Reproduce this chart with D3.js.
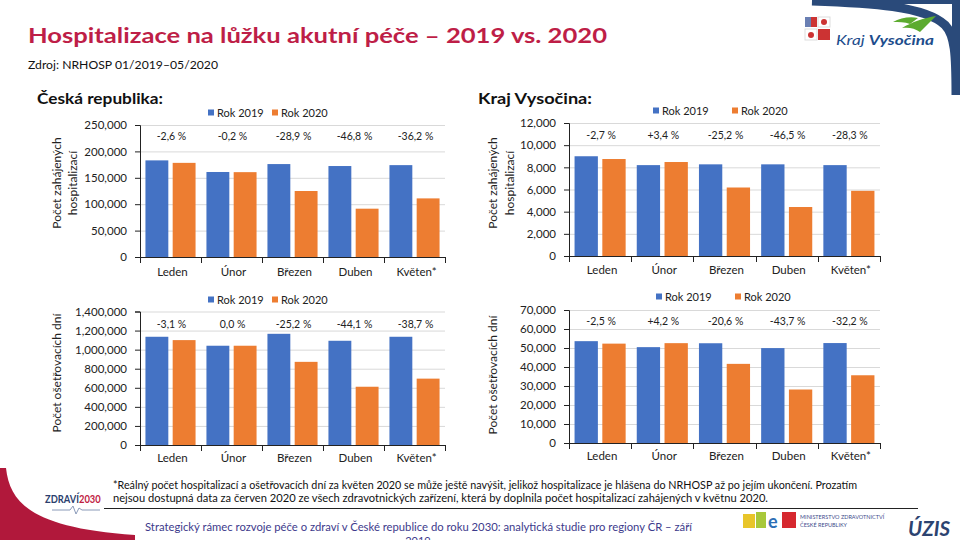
<!DOCTYPE html>
<html><head><meta charset="utf-8">
<script src="https://cdn.jsdelivr.net/npm/d3@7"></script>
<style>
html,body{margin:0;padding:0;background:#fff;overflow:hidden;}
svg{display:block;font-family:Lato,"Open Sans",sans-serif;}
</style></head>
<body>
<svg id="c" width="960" height="540" viewBox="0 0 960 540"></svg>
<script>
// ---------- DATA ----------
const categories = ["Leden", "Únor", "Březen", "Duben", "Květen*"];
const seriesNames = ["Rok 2019", "Rok 2020"];

const crHosp2019 = [183000, 161000, 176000, 172300, 174000];
const crHosp2020 = [178300, 160700, 125000, 91500, 111000];
const crHospPct  = ["-2,6 %", "-0,2 %", "-28,9 %", "-46,8 %", "-36,2 %"];
const crHospTicks = [0, 50000, 100000, 150000, 200000, 250000];

const kvHosp2019 = [9000, 8200, 8270, 8270, 8200];
const kvHosp2020 = [8750, 8480, 6180, 4420, 5880];
const kvHospPct  = ["-2,7 %", "+3,4 %", "-25,2 %", "-46,5 %", "-28,3 %"];
const kvHospTicks = [0, 2000, 4000, 6000, 8000, 10000, 12000];

const crDays2019 = [1135000, 1041000, 1166000, 1093000, 1135000];
const crDays2020 = [1100000, 1041000, 872000, 611000, 696000];
const crDaysPct  = ["-3,1 %", "0,0 %", "-25,2 %", "-44,1 %", "-38,7 %"];
const crDaysTicks = [0, 200000, 400000, 600000, 800000, 1000000, 1200000, 1400000];

const kvDays2019 = [53600, 50450, 52500, 49950, 52600];
const kvDays2020 = [52300, 52550, 41650, 28150, 35650];
const kvDaysPct  = ["-2,5 %", "+4,2 %", "-20,6 %", "-43,7 %", "-32,2 %"];
const kvDaysTicks = [0, 10000, 20000, 30000, 40000, 50000, 60000, 70000];

// ---------- STYLE ----------
const C_BLUE = "#4472c4", C_ORANGE = "#ed7d31";
const TXT = "#222";
const svg = d3.select("#c");
svg.append("rect").attr("x",0).attr("y",0).attr("width",960).attr("height",540).attr("fill","#fff");

// decorative corners
svg.append("path").attr("d","M812,1 C870,3 925,6 945,25 C955,35 956,55 956,95")
  .attr("fill","none").attr("stroke","#2a4a7a").attr("stroke-width",9);
svg.append("rect").attr("x",952).attr("y",0).attr("width",8).attr("height",95).attr("fill","#2a4a7a");
svg.append("rect").attr("x",812).attr("y",0).attr("width",140).attr("height",4).attr("fill","#2a4a7a");
svg.append("path").attr("d","M0,468 L6,468 C10,505 35,528 135,535 L135,540 L0,540 Z").attr("fill","#b1183b");

// title
svg.append("text").attr("x",28).attr("y",43).attr("fill","#be1e47")
  .attr("font-weight","bold").attr("font-size",21)
  .attr("textLength",579).attr("lengthAdjust","spacingAndGlyphs")
  .text("Hospitalizace na lůžku akutní péče – 2019 vs. 2020");
svg.append("text").attr("x",28).attr("y",69).attr("fill","#111")
  .attr("font-size",12).attr("textLength",190).attr("lengthAdjust","spacingAndGlyphs")
  .text("Zdroj: NRHOSP 01/2019–05/2020");

// section headings
svg.append("text").attr("x",37).attr("y",104).attr("font-weight","bold").attr("font-size",16)
  .attr("fill","#111").attr("textLength",126).attr("lengthAdjust","spacingAndGlyphs").text("Česká republika:");
svg.append("text").attr("x",478).attr("y",104).attr("font-weight","bold").attr("font-size",16)
  .attr("fill","#111").attr("textLength",114).attr("lengthAdjust","spacingAndGlyphs").text("Kraj Vysočina:");

// ---------- PANELS ----------
function panel(o) {
  const g = svg.append("g");
  const x = d3.scaleBand().domain(categories).range([o.x0, o.x1]).paddingInner(0).paddingOuter(0);
  const xs = d3.scaleBand().domain(seriesNames).range([0, x.bandwidth()]).paddingInner(0.16).paddingOuter(0.2);
  const y = d3.scaleLinear().domain([0, d3.max(o.ticks)]).range([o.yb, o.yt]);
  const colors = d3.scaleOrdinal().domain(seriesNames).range([C_BLUE, C_ORANGE]);

  // grid
  g.append("g").attr("transform",`translate(${o.x0},0)`)
    .call(d3.axisLeft(y).tickValues(o.ticks).tickSize(-(o.x1-o.x0)).tickFormat(""))
    .call(a=>a.select(".domain").remove())
    .call(a=>a.selectAll("line").attr("stroke","#d9d9d9").attr("stroke-width",1));

  // bars
  const rows = categories.map((c,i)=>({c, vals:[{s:seriesNames[0],v:o.a[i]},{s:seriesNames[1],v:o.b[i]}]}));
  const grp = g.selectAll(".grp").data(rows).join("g").attr("transform",d=>`translate(${x(d.c)},0)`);
  grp.selectAll("rect").data(d=>d.vals).join("rect")
    .attr("x",d=>xs(d.s)).attr("width",xs.bandwidth())
    .attr("y",d=>y(d.v)).attr("height",d=>y(0)-y(d.v)).attr("fill",d=>colors(d.s));

  // percent labels
  g.selectAll(".pct").data(categories).join("text")
    .attr("x",c=>x(c)+x.bandwidth()/2+1).attr("y",o.pctY).attr("text-anchor","middle")
    .attr("font-size",10.5).attr("fill",TXT).text((c,i)=>o.pct[i]);

  // y axis
  g.append("g").attr("transform",`translate(${o.x0},0)`)
    .call(d3.axisLeft(y).tickValues(o.ticks).tickSize(5).tickPadding(8).tickFormat(d3.format(",")))
    .call(a=>a.select(".domain").attr("stroke","#222"))
    .call(a=>a.selectAll("line").attr("stroke","#222"))
    .call(a=>a.selectAll("text").attr("font-size",11.5).attr("fill",TXT).attr("font-family","Lato,sans-serif"));

  // x axis
  const xa = g.append("g");
  xa.append("line").attr("x1",o.x0).attr("x2",o.x1).attr("y1",o.yb+0.5).attr("y2",o.yb+0.5).attr("stroke","#222");
  const bounds = categories.map(c=>x(c)).concat([x.range()[1]]);
  xa.selectAll(".tk").data(bounds).join("line")
    .attr("x1",d=>Math.round(d)+0.5).attr("x2",d=>Math.round(d)+0.5).attr("y1",o.yb).attr("y2",o.yb+6).attr("stroke","#222");
  xa.selectAll(".xl").data(categories).join("text")
    .attr("x",c=>x(c)+x.bandwidth()/2+2).attr("y",o.xlY).attr("text-anchor","middle")
    .attr("font-size",11.5).attr("fill",TXT).text(c=>c);

  // legend
  seriesNames.forEach((s,i)=>{
    const lx = o.leg[i];
    g.append("rect").attr("x",lx).attr("y",o.legY-3.5).attr("width",6).attr("height",6).attr("fill",colors(s));
    g.append("text").attr("x",lx+9).attr("y",o.legY+3.5).attr("font-size",11).attr("fill",TXT).text(s);
  });

  // y title
  o.yTitle.forEach((t,i)=>{
    g.append("text").attr("transform",`translate(${o.yTitleX[i]},${o.yTitleY}) rotate(-90)`)
      .attr("text-anchor","middle").attr("font-size",12).attr("fill",TXT).text(t);
  });
}

panel({x0:140,x1:445,yt:125,yb:257,ticks:crHospTicks,a:crHosp2019,b:crHosp2020,pct:crHospPct,
  pctY:140,xlY:276,legY:113,leg:[208,272],yTitle:["Počet zahájených","hospitalizací"],yTitleX:[61,77],yTitleY:183});
panel({x0:569,x1:880,yt:123,yb:256,ticks:kvHospTicks,a:kvHosp2019,b:kvHosp2020,pct:kvHospPct,
  pctY:139,xlY:274,legY:111,leg:[653,732],yTitle:["Počet zahájených","hospitalizací"],yTitleX:[497,514],yTitleY:183});
panel({x0:140,x1:445,yt:311.5,yb:445,ticks:crDaysTicks,a:crDays2019,b:crDays2020,pct:crDaysPct,
  pctY:328,xlY:462,legY:300,leg:[208,272],yTitle:["Počet ošetřovacích dní"],yTitleX:[61],yTitleY:373});
panel({x0:569,x1:880,yt:310,yb:443,ticks:kvDaysTicks,a:kvDays2019,b:kvDays2020,pct:kvDaysPct,
  pctY:325,xlY:460,legY:297,leg:[656,735],yTitle:["Počet ošetřovacích dní"],yTitleX:[497],yTitleY:375});

// ---------- FOOTER ----------
svg.append("text").attr("x",113).attr("y",489).attr("font-size",10.5).attr("fill","#111")
  .attr("textLength",744).attr("lengthAdjust","spacingAndGlyphs")
  .text("*Reálný počet hospitalizací a ošetřovacích dní za květen 2020 se může ještě navýšit, jelikož hospitalizace je hlášena do NRHOSP až po jejím ukončení. Prozatím");
svg.append("text").attr("x",113).attr("y",502).attr("font-size",10.5).attr("fill","#111")
  .attr("textLength",655).attr("lengthAdjust","spacingAndGlyphs")
  .text("nejsou dostupná data za červen 2020 ze všech zdravotnických zařízení, která by doplnila počet hospitalizací zahájených v květnu 2020.");
svg.append("line").attr("x1",104).attr("x2",918).attr("y1",508.5).attr("y2",508.5).attr("stroke","#222").attr("stroke-width",1);
svg.append("text").attr("x",145).attr("y",531).attr("font-size",11).attr("fill","#3d3a8c")
  .attr("textLength",547).attr("lengthAdjust","spacingAndGlyphs")
  .text("Strategický rámec rozvoje péče o zdraví v České republice do roku 2030: analytická studie pro regiony ČR – září");
svg.append("text").attr("x",418).attr("y",545).attr("font-size",11).attr("fill","#3d3a8c").attr("text-anchor","middle").text("2019");

// ZDRAVÍ2030 logo (single text, condensed by transform)
const zl = svg.append("text").attr("transform","translate(45,503) scale(0.78,1)")
  .attr("font-size",12).attr("font-weight","bold");
zl.append("tspan").attr("fill","#2c3f6e").text("ZDRAVÍ");
zl.append("tspan").attr("fill","#c0213f").text("2030");
svg.append("path").attr("d","M52,510 L70,510 L73,506 L76,514 L79,508 L82,510 L100,510").attr("fill","none").attr("stroke","#8a9ab8").attr("stroke-width",1);

// Kraj Vysočina logo
const kl = svg.append("g");
kl.append("rect").attr("x",805).attr("y",17).attr("width",12).attr("height",10).attr("fill","#c33");
kl.append("rect").attr("x",805).attr("y",17).attr("width",6).attr("height",10).attr("fill","#6a7fb3");
kl.append("rect").attr("x",818).attr("y",17).attr("width",12).attr("height",10).attr("fill","#fff").attr("stroke","#ddd");
kl.append("circle").attr("cx",824).attr("cy",22).attr("r",3).attr("fill","#c33");
kl.append("rect").attr("x",805).attr("y",29).attr("width",12).attr("height",11).attr("fill","#fff").attr("stroke","#ddd");
kl.append("circle").attr("cx",811).attr("cy",35).attr("r",3).attr("fill","#c33");
kl.append("rect").attr("x",818).attr("y",29).attr("width",12).attr("height",11).attr("fill","#c33");
kl.append("path").attr("d","M893,22 C900,18 910,16 918,18 L910,24 C905,22 898,22 893,22 Z").attr("fill","#5cab2f");
kl.append("path").attr("d","M902,28 C912,22 924,18 936,16 L920,32 C915,28 908,27 902,28 Z").attr("fill","#5cab2f");
kl.append("text").attr("x",836).attr("y",45).attr("font-size",14).attr("font-style","italic").attr("fill","#1d4d8c")
  .attr("textLength",98).attr("lengthAdjust","spacingAndGlyphs")
  .html('Kraj <tspan font-weight="bold">Vysočina</tspan>');

// ministry logos
svg.append("rect").attr("x",743).attr("y",514).attr("width",12).attr("height",14).attr("fill","#e8c52a");
svg.append("rect").attr("x",756).attr("y",512).attr("width",10).attr("height",16).attr("fill","#a8c83a");
svg.append("text").attr("x",768).attr("y",528).attr("font-size",18).attr("font-weight","bold").attr("fill","#2d6fb5").text("e");
svg.append("rect").attr("x",782).attr("y",512).attr("width",14).attr("height",16).attr("fill","#d6282f");
svg.append("text").attr("x",800).attr("y",519).attr("font-size",5.5).attr("fill","#3d4c8c").text("MINISTERSTVO ZDRAVOTNICTVÍ");
svg.append("text").attr("x",800).attr("y",527).attr("font-size",5.5).attr("fill","#3d4c8c").text("ČESKÉ REPUBLIKY");
svg.append("text").attr("x",908).attr("y",536).attr("font-size",20).attr("font-weight","bold").attr("font-style","italic")
  .attr("fill","#2c4370").attr("textLength",42).attr("lengthAdjust","spacingAndGlyphs").text("ÚZIS");
</script>
</body></html>
